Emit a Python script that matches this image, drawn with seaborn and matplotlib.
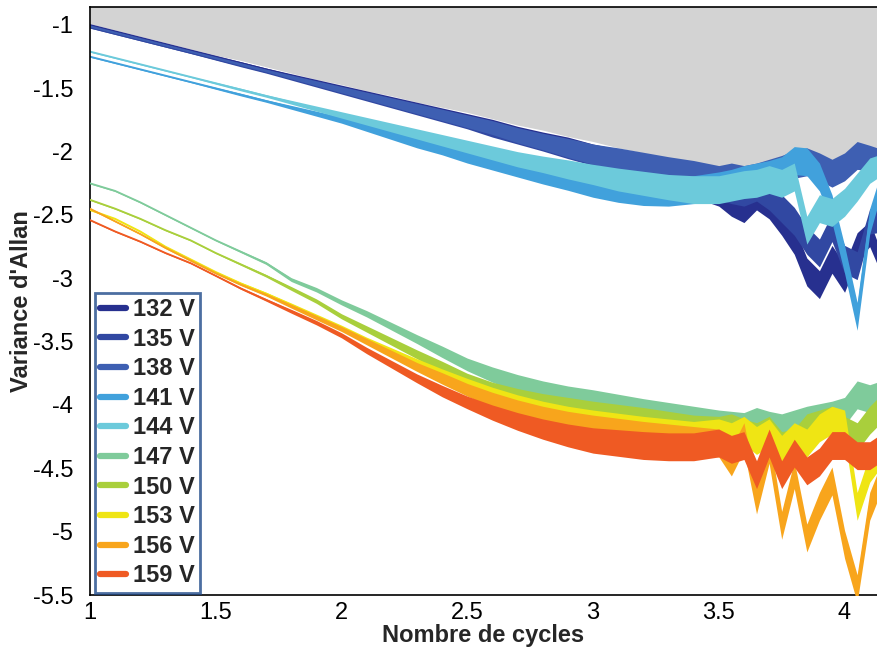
import numpy as np
import matplotlib
matplotlib.use("Agg")
import matplotlib.pyplot as plt
import seaborn as sns
from matplotlib.lines import Line2D

# x positions (nombre de cycles, log scale values)
cycles = [1.0, 1.1, 1.2, 1.3, 1.4, 1.5, 1.6, 1.7, 1.8, 1.9, 2.0, 2.1, 2.2, 2.3, 2.4, 2.5,
          2.6, 2.7, 2.8, 2.9, 3.0, 3.1, 3.2, 3.3, 3.4, 3.5, 3.55, 3.6, 3.65, 3.7, 3.75,
          3.8, 3.85, 3.9, 3.95, 4.0, 4.05, 4.1, 4.13]

labels = ["132 V", "135 V", "138 V", "141 V", "144 V", "147 V", "150 V", "153 V", "156 V", "159 V"]
colors = ["#27308f", "#3148a2", "#3e5fb2", "#41a1dc", "#6ccadb", "#7fcb9b", "#a9cf3c",
          "#efe514", "#f8a51c", "#ef5a23"]

v132 = [-1.00, -1.05, -1.10, -1.15, -1.20, -1.25, -1.30, -1.35, -1.40, -1.45, -1.50, -1.55, -1.60,
        -1.65, -1.70, -1.75, -1.80, -1.86, -1.91, -1.96, -2.02, -2.07, -2.12, -2.18, -2.25, -2.32,
        -2.40, -2.45, -2.35, -2.42, -2.55, -2.70, -2.95, -3.05, -2.85, -3.00, -2.75, -2.65, -2.80]
v135 = [-1.02, -1.07, -1.12, -1.17, -1.22, -1.27, -1.32, -1.37, -1.42, -1.47, -1.52, -1.57, -1.62,
        -1.67, -1.72, -1.77, -1.83, -1.88, -1.93, -1.98, -2.03, -2.08, -2.13, -2.18, -2.22, -2.27,
        -2.30, -2.32, -2.28, -2.35, -2.45, -2.55, -2.70, -2.80, -2.60, -2.85, -2.90, -2.55, -2.55]
v138 = [-1.01, -1.06, -1.11, -1.16, -1.21, -1.26, -1.31, -1.36, -1.41, -1.46, -1.51, -1.56, -1.61,
        -1.66, -1.71, -1.76, -1.81, -1.87, -1.92, -1.97, -2.02, -2.06, -2.10, -2.14, -2.18, -2.22,
        -2.20, -2.22, -2.20, -2.17, -2.14, -2.10, -2.08, -2.12, -2.17, -2.12, -2.03, -2.05, -2.06]
v141 = [-1.25, -1.30, -1.35, -1.40, -1.45, -1.50, -1.55, -1.60, -1.65, -1.70, -1.75, -1.81, -1.87,
        -1.93, -1.98, -2.04, -2.09, -2.14, -2.19, -2.23, -2.28, -2.31, -2.33, -2.33, -2.30, -2.27,
        -2.25, -2.22, -2.20, -2.18, -2.15, -2.07, -2.08, -2.20, -2.45, -2.85, -3.30, -2.55, -2.35]
v144 = [-1.21, -1.26, -1.31, -1.36, -1.41, -1.46, -1.51, -1.56, -1.61, -1.66, -1.71, -1.76, -1.81,
        -1.86, -1.91, -1.96, -2.01, -2.06, -2.10, -2.14, -2.18, -2.22, -2.25, -2.28, -2.30, -2.30,
        -2.28, -2.26, -2.25, -2.22, -2.25, -2.20, -2.62, -2.45, -2.48, -2.40, -2.28, -2.15, -2.12]
v147 = [-2.25, -2.31, -2.40, -2.50, -2.60, -2.70, -2.79, -2.88, -3.01, -3.09, -3.19, -3.28, -3.38,
        -3.48, -3.58, -3.68, -3.76, -3.83, -3.89, -3.94, -3.98, -4.02, -4.06, -4.09, -4.12, -4.15,
        -4.16, -4.17, -4.13, -4.16, -4.18, -4.15, -4.12, -4.10, -4.08, -4.05, -3.92, -3.95, -3.93]
v150 = [-2.38, -2.45, -2.53, -2.62, -2.70, -2.80, -2.89, -2.98, -3.08, -3.18, -3.30, -3.40, -3.50,
        -3.60, -3.70, -3.80, -3.88, -3.94, -3.99, -4.03, -4.07, -4.10, -4.13, -4.16, -4.19, -4.20,
        -4.18, -4.22, -4.25, -4.20, -4.32, -4.30, -4.18, -4.15, -4.12, -4.20, -4.25, -4.12, -4.06]
v153 = [-2.46, -2.53, -2.63, -2.75, -2.85, -2.95, -3.04, -3.12, -3.21, -3.30, -3.39, -3.49, -3.58,
        -3.67, -3.76, -3.84, -3.92, -3.99, -4.05, -4.10, -4.14, -4.17, -4.20, -4.22, -4.24, -4.22,
        -4.25, -4.20, -4.28, -4.22, -4.35, -4.25, -4.30, -4.18, -4.12, -4.15, -4.80, -4.50, -4.42]
v156 = [-2.45, -2.55, -2.65, -2.76, -2.86, -2.96, -3.05, -3.13, -3.22, -3.31, -3.40, -3.50, -3.60,
        -3.70, -3.79, -3.88, -3.96, -4.03, -4.09, -4.14, -4.18, -4.21, -4.24, -4.26, -4.28, -4.30,
        -4.45, -4.25, -4.75, -4.35, -4.95, -4.55, -5.05, -4.80, -4.60, -5.10, -5.45, -4.80, -4.65]
v159 = [-2.54, -2.63, -2.71, -2.80, -2.88, -2.98, -3.08, -3.17, -3.26, -3.35, -3.45, -3.57, -3.68,
        -3.79, -3.89, -3.98, -4.06, -4.13, -4.19, -4.24, -4.28, -4.30, -4.32, -4.33, -4.33, -4.30,
        -4.35, -4.32, -4.55, -4.30, -4.55, -4.38, -4.52, -4.45, -4.32, -4.32, -4.40, -4.40, -4.36]

# width of the noisy band around each curve
noise_top = [0.01, 0.01, 0.01, 0.01, 0.01, 0.015, 0.02, 0.02, 0.03, 0.04, 0.05, 0.06, 0.07, 0.08,
             0.09, 0.10, 0.11, 0.12, 0.13, 0.15, 0.16, 0.18, 0.19, 0.20, 0.22, 0.22, 0.22, 0.22,
             0.22, 0.22, 0.22, 0.22, 0.22, 0.22, 0.22, 0.22, 0.22, 0.20, 0.18]
noise_bottom = [0.01, 0.01, 0.01, 0.01, 0.01, 0.01, 0.015, 0.02, 0.03, 0.035, 0.04, 0.05, 0.06,
                0.07, 0.09, 0.10, 0.12, 0.14, 0.16, 0.18, 0.20, 0.21, 0.22, 0.22, 0.22, 0.22,
                0.22, 0.22, 0.22, 0.22, 0.22, 0.22, 0.22, 0.22, 0.22, 0.22, 0.22, 0.22, 0.22]

# upper edge of the grey (inaccessible) region
shade_edge = [-0.99, -1.04, -1.09, -1.14, -1.19, -1.24, -1.28, -1.33, -1.38, -1.43, -1.47, -1.52,
              -1.56, -1.61, -1.65, -1.69, -1.74, -1.79, -1.83, -1.88, -1.92, -1.97, -2.01, -2.06,
              -2.08, -2.12, -2.15, -2.18, -2.18, -2.14, -2.10, -2.05, -2.04, -2.08, -2.13, -2.10,
              -2.00, -2.03, -2.05]

series = [v132, v135, v138, v141, v144, v147, v150, v153, v156, v159]
noises = [noise_top] * 5 + [noise_bottom] * 5

sns.set_style("white")
plt.rcParams["font.family"] = ["Liberation Sans", "DejaVu Sans"]
plt.rcParams["axes.unicode_minus"] = False

fig = plt.figure(figsize=(8.77, 6.53), dpi=100)
ax = fig.add_axes([90 / 877, 58 / 653, 787 / 877, 588 / 653])

x = np.array(cycles)
ax.fill_between(x, shade_edge, 0, color="#d3d3d3", lw=0, zorder=1)

for i, (vals, nz, col) in enumerate(zip(series, noises, colors)):
    y = np.array(vals)
    half = np.array(nz) / 2
    ax.fill_between(x, y - half, y + half, color=col, lw=0, zorder=2 + i * 0.1)
    sns.lineplot(x=x, y=y, color=col, lw=1.3, ax=ax, zorder=2.05 + i * 0.1)

ax.set_xlim(1, 4.129)
ax.set_ylim(-5.5, -0.858)
ax.set_xticks([1, 1.5, 2, 2.5, 3, 3.5, 4])
ax.set_xticklabels(["1", "1.5", "2", "2.5", "3", "3.5", "4"])
ax.set_yticks([-5.5, -5, -4.5, -4, -3.5, -3, -2.5, -2, -1.5, -1])
ax.set_yticklabels(["-5.5", "-5", "-4.5", "-4", "-3.5", "-3", "-2.5", "-2", "-1.5", "-1"])
ax.tick_params(axis="both", direction="in", length=5, width=1, labelsize=17,
               colors="#555555", labelcolor="black")
ax.tick_params(axis="y", pad=12)
ax.tick_params(axis="x", pad=5)
ax.spines["right"].set_visible(False)
for s in ["left", "bottom", "top"]:
    ax.spines[s].set_color("black")
    ax.spines[s].set_linewidth(1.2)

ax.set_xlabel("Nombre de cycles", fontsize=17, fontweight="bold", labelpad=0)
ax.set_ylabel("Variance d'Allan", fontsize=17, fontweight="bold")
ax.yaxis.set_label_coords(-0.072, 0.5)

handles = [Line2D([], [], color=c, lw=4.5) for c in colors]
leg = ax.legend(handles, labels, loc="lower left", bbox_to_anchor=(0.006, 0.004),
                borderaxespad=0, fancybox=False, frameon=True, handlelength=1.1,
                handletextpad=0.3, labelspacing=0.28, borderpad=0.22,
                prop={"size": 17, "weight": "bold"})
leg.get_frame().set_edgecolor("#1f4a8a")
leg.get_frame().set_linewidth(2)
leg.set_zorder(10)

fig.savefig("out.png", dpi=100)
